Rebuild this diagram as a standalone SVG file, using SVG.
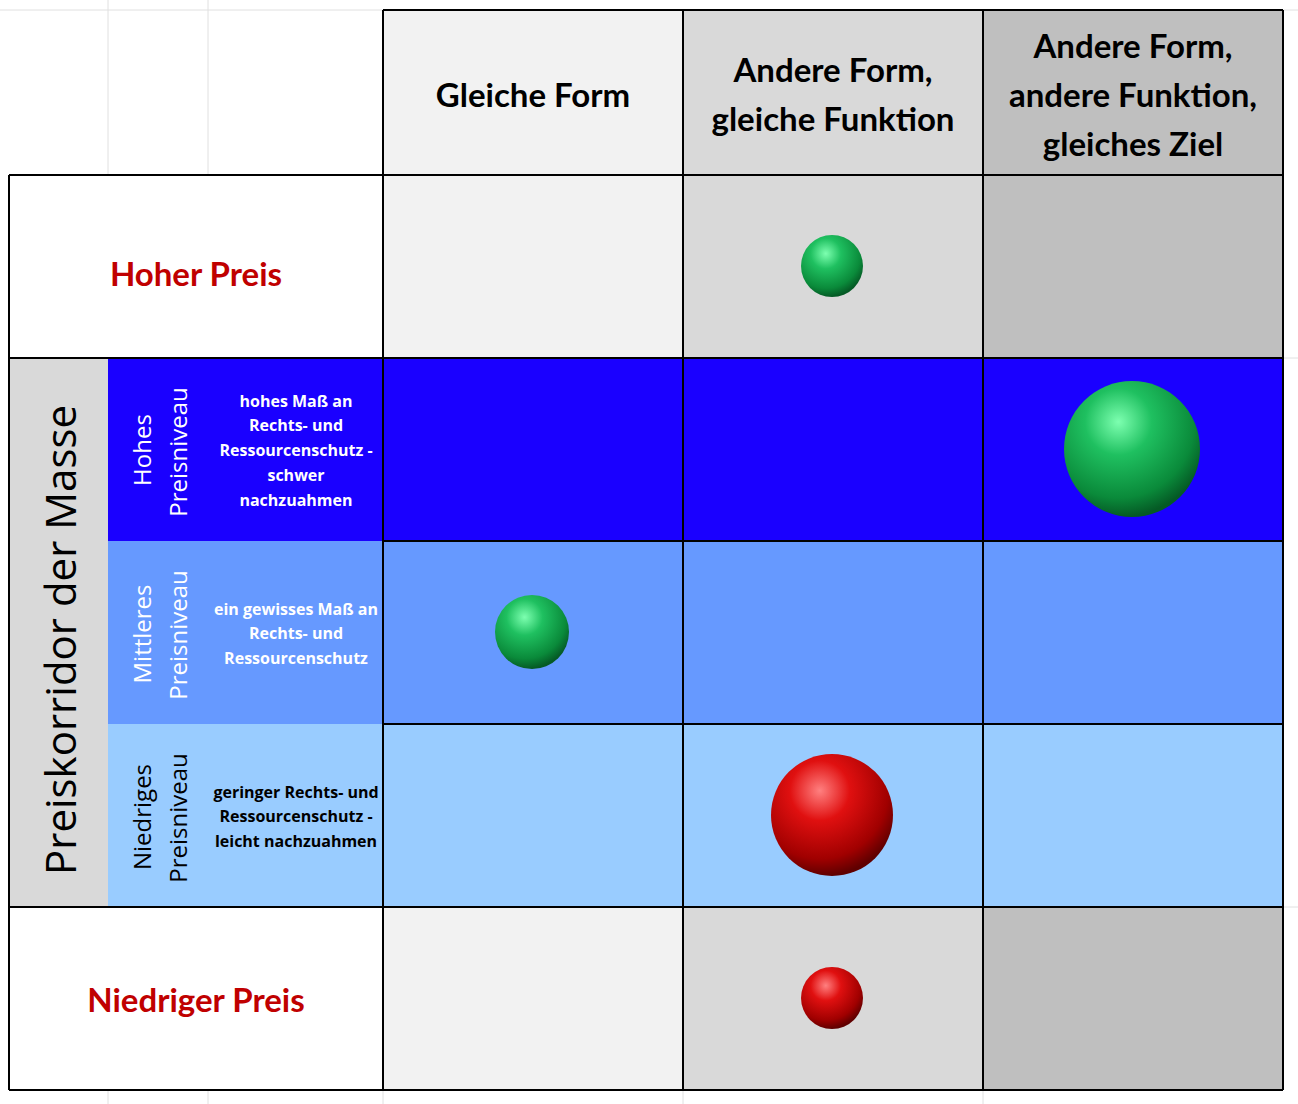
<svg xmlns="http://www.w3.org/2000/svg" width="1298" height="1104" viewBox="0 0 1298 1104">
<style>
.g{stroke:#e0e0e0;stroke-width:1}
.b{stroke:#000;stroke-width:2;fill:none}
.h{font-family:Lato,"Open Sans",sans-serif;font-weight:bold;font-size:33px;fill:#000;text-anchor:middle}
.r{font-family:Lato,"Open Sans",sans-serif;font-weight:bold;font-size:33px;fill:#c00000;text-anchor:middle}
.v{font-family:"Open Sans",sans-serif;font-size:24px;text-anchor:middle}
.s{font-family:"Open Sans",sans-serif;font-weight:bold;font-size:16px;text-anchor:middle}
</style>
<defs>
<radialGradient id="gr" cx="0.4" cy="0.3" r="0.7">
<stop offset="0" stop-color="#7dffb0"/><stop offset="0.35" stop-color="#1fc060"/><stop offset="0.8" stop-color="#0a8a3a"/><stop offset="1" stop-color="#055a25"/>
</radialGradient>
<radialGradient id="rd" cx="0.4" cy="0.3" r="0.7">
<stop offset="0" stop-color="#ff8080"/><stop offset="0.35" stop-color="#e01010"/><stop offset="0.8" stop-color="#a00000"/><stop offset="1" stop-color="#600000"/>
</radialGradient>
</defs>
<rect width="1298" height="1104" fill="#fff"/>
<g id="excelgrid">
<line class="g" x1="108" y1="0" x2="108" y2="175"/><line class="g" x1="208" y1="0" x2="208" y2="175"/>
<line class="g" x1="0" y1="10" x2="383" y2="10"/><line class="g" x1="1283" y1="10" x2="1298" y2="10"/>
<line class="g" x1="108" y1="1090" x2="108" y2="1104"/><line class="g" x1="208" y1="1090" x2="208" y2="1104"/>
<line class="g" x1="383" y1="1090" x2="383" y2="1104"/><line class="g" x1="683" y1="1090" x2="683" y2="1104"/>
<line class="g" x1="983" y1="1090" x2="983" y2="1104"/>
<line class="g" x1="1283" y1="358" x2="1298" y2="358"/><line class="g" x1="1283" y1="907" x2="1298" y2="907"/>
</g>
<g id="header">
<rect x="383" y="10" width="300" height="165" fill="#f2f2f2"/>
<rect x="683" y="10" width="300" height="165" fill="#d9d9d9"/>
<rect x="983" y="10" width="300" height="165" fill="#bfbfbf"/>
<text class="h" x="533" y="107">Gleiche Form</text>
<text class="h" x="833" y="82">Andere Form,</text><text class="h" x="833" y="131">gleiche Funktion</text>
<text class="h" x="1133" y="58">Andere Form,</text><text class="h" x="1133" y="107">andere Funktion,</text><text class="h" x="1133" y="156">gleiches Ziel</text>
</g>
<g id="hoher">
<rect x="383" y="175" width="300" height="183" fill="#f2f2f2"/>
<rect x="683" y="175" width="300" height="183" fill="#d9d9d9"/>
<rect x="983" y="175" width="300" height="183" fill="#bfbfbf"/>
<text class="r" x="196" y="286">Hoher Preis</text>
</g>
<g id="niedriger">
<rect x="383" y="907" width="300" height="183" fill="#f2f2f2"/>
<rect x="683" y="907" width="300" height="183" fill="#d9d9d9"/>
<rect x="983" y="907" width="300" height="183" fill="#bfbfbf"/>
<text class="r" x="196" y="1012">Niedriger Preis</text>
</g>
<g id="korridor">
<rect x="9" y="358" width="99" height="549" fill="#d9d9d9"/>
<text class="v" style="font-size:42px" transform="translate(76,640) rotate(-90)" fill="#000">Preiskorridor der Masse</text>
</g>
<g id="hohes">
<rect x="108" y="358" width="1175" height="183" fill="#1a00ff"/>
<text class="v" fill="#fff" transform="translate(151,450) rotate(-90)">Hohes</text>
<text class="v" fill="#fff" transform="translate(187,452) rotate(-90)">Preisniveau</text>
<text class="s" fill="#fff"><tspan x="296" y="407">hohes Maß an</tspan><tspan x="296" y="431">Rechts- und</tspan><tspan x="296" y="456">Ressourcenschutz -</tspan><tspan x="296" y="481">schwer</tspan><tspan x="296" y="506">nachzuahmen</tspan></text>
</g>
<g id="mittleres">
<rect x="108" y="541" width="1175" height="183" fill="#6699ff"/>
<text class="v" fill="#fff" transform="translate(151,634) rotate(-90)">Mittleres</text>
<text class="v" fill="#fff" transform="translate(187,635) rotate(-90)">Preisniveau</text>
<text class="s" fill="#fff"><tspan x="296" y="615">ein gewisses Maß an</tspan><tspan x="296" y="639">Rechts- und</tspan><tspan x="296" y="664">Ressourcenschutz</tspan></text>
</g>
<g id="niedriges">
<rect x="108" y="724" width="1175" height="183" fill="#99ccff"/>
<text class="v" fill="#000" transform="translate(151,817) rotate(-90)">Niedriges</text>
<text class="v" fill="#000" transform="translate(187,818) rotate(-90)">Preisniveau</text>
<text class="s" fill="#000"><tspan x="296" y="798">geringer Rechts- und</tspan><tspan x="296" y="822">Ressourcenschutz -</tspan><tspan x="296" y="847">leicht nachzuahmen</tspan></text>
</g>
<g id="lines">
<line class="b" x1="383" y1="10" x2="1283" y2="10"/>
<line class="b" x1="9" y1="175" x2="1283" y2="175"/>
<line class="b" x1="9" y1="358" x2="1283" y2="358"/>
<line class="b" x1="383" y1="541" x2="1283" y2="541"/>
<line class="b" x1="383" y1="724" x2="1283" y2="724"/>
<line class="b" x1="9" y1="907" x2="1283" y2="907"/>
<line class="b" x1="9" y1="1090" x2="1283" y2="1090"/>
<line class="b" x1="9" y1="175" x2="9" y2="1090"/>
<line class="b" x1="383" y1="10" x2="383" y2="1090"/>
<line class="b" x1="683" y1="10" x2="683" y2="1090"/>
<line class="b" x1="983" y1="10" x2="983" y2="1090"/>
<line class="b" x1="1283" y1="10" x2="1283" y2="1090"/>
</g>
<g id="spheres">
<circle cx="832" cy="266" r="31" fill="url(#gr)"/>
<circle cx="1132" cy="449" r="68" fill="url(#gr)"/>
<circle cx="532" cy="632" r="37" fill="url(#gr)"/>
<circle cx="832" cy="815" r="61" fill="url(#rd)"/>
<circle cx="832" cy="998" r="31" fill="url(#rd)"/>
</g>
</svg>
